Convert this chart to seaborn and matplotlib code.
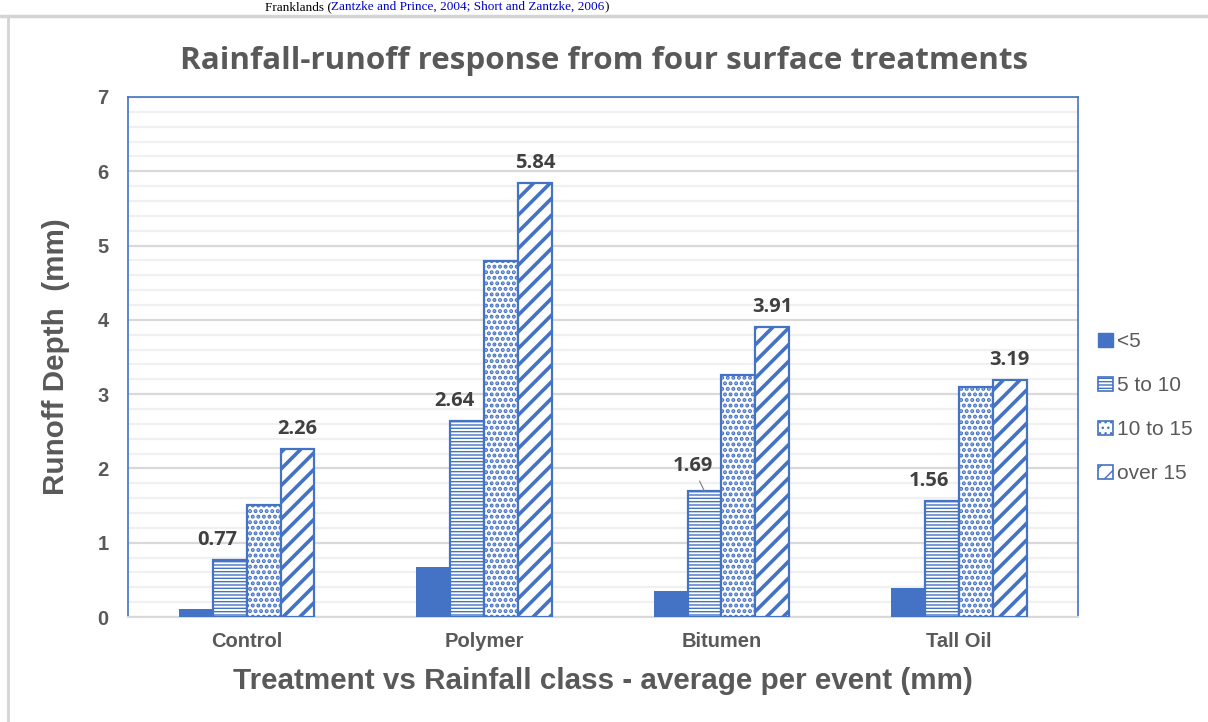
import pandas as pd
import matplotlib
matplotlib.use("Agg")
import matplotlib.pyplot as plt
from matplotlib.lines import Line2D
from matplotlib.patches import Patch
import seaborn as sns

sns.set_theme(style="white")

## Data ##
treatments = ["Control", "Polymer", "Bitumen", "Tall Oil"]
classes = ["<5", "5 to 10", "10 to 15", "over 15"]
lt5 = [0.11, 0.67, 0.35, 0.39]
r5_10 = [0.77, 2.64, 1.69, 1.56]
r10_15 = [1.51, 4.79, 3.26, 3.10]
over15 = [2.26, 5.84, 3.91, 3.19]
yticks = [0, 1, 2, 3, 4, 5, 6, 7]

df = pd.DataFrame({
    "Treatment": treatments * 4,
    "Class": [c for c in classes for _ in treatments],
    "Runoff": lt5 + r5_10 + r10_15 + over15,
})

blue = "#4472C4"
grey = "#595959"

fig = plt.figure(figsize=(12.08, 7.22), dpi=100)
ax = fig.add_axes([0.106, 0.1454, 0.786, 0.7203])

sns.barplot(data=df, x="Treatment", y="Runoff", hue="Class", order=treatments,
            hue_order=classes, width=0.57, gap=0, palette=[blue] * 4,
            errorbar=None, legend=False, ax=ax, zorder=3)

hatches = [None, "-----", "...", "//"]
hatch_lw = [1, 1.0, 2.0, 2.6]
for cont, h, hl in zip(ax.containers, hatches, hatch_lw):
    for b in cont:
        if h is None:
            b.set_facecolor(blue)
            b.set_edgecolor(blue)
            b.set_linewidth(0)
        else:
            b.set_facecolor("white")
            b.set_edgecolor(blue)
            b.set_hatch(h)
            b.set_linewidth(1.6)
            if hasattr(b, "set_hatch_linewidth"):
                b.set_hatch_linewidth(hl)

# data labels on "5 to 10" and "over 15"
lab_font = dict(fontsize=14.5, fontweight="bold", color="#404040", family="Open Sans")
for i, b in enumerate(ax.containers[1]):
    x = b.get_x() + b.get_width() / 2
    if treatments[i] == "Bitumen":
        ax.annotate("%.2f" % r5_10[i], xy=(x, r5_10[i]), xytext=(-12, 15),
                    textcoords="offset pixels", ha="center", va="bottom",
                    arrowprops=dict(arrowstyle="-", color="#7f7f7f", lw=0.8,
                                    shrinkA=1, shrinkB=0), **lab_font)
    else:
        ax.annotate("%.2f" % r5_10[i], xy=(x, r5_10[i]), xytext=(-13, 10),
                    textcoords="offset pixels", ha="center", va="bottom", **lab_font)
for i, b in enumerate(ax.containers[3]):
    x = b.get_x() + b.get_width() / 2
    ax.annotate("%.2f" % over15[i], xy=(x, over15[i]), xytext=(0, 10),
                textcoords="offset pixels", ha="center", va="bottom", **lab_font)

ax.set_ylim(0, 7)
ax.set_xlim(-0.5, 3.5)
ax.set_yticks(yticks)
ax.set_yticks([v / 5 for v in range(36)], minor=True)
ax.grid(axis="y", which="major", color="#D9D9D9", lw=1.6, zorder=0)
ax.grid(axis="y", which="minor", color="#F0F0F0", lw=1.6, zorder=0)
ax.set_axisbelow(True)
ax.tick_params(axis="both", which="both", length=0)
ax.tick_params(axis="y", pad=14)
ax.tick_params(axis="x", pad=11)
for t in ax.get_yticklabels() + ax.get_xticklabels():
    t.set_fontsize(14.5)
    t.set_fontweight("bold")
    t.set_color(grey)
    t.set_family("Liberation Sans")

for s in ["left", "top", "right"]:
    ax.spines[s].set_color(blue)
    ax.spines[s].set_linewidth(1.2)
ax.spines["bottom"].set_color("#D9D9D9")
ax.spines["bottom"].set_linewidth(1.5)

ax.set_xlabel("Treatment vs Rainfall class - average per event (mm)", fontsize=21.3,
              fontweight="bold", color=grey, family="Liberation Sans", labelpad=11)
ax.set_ylabel("Runoff Depth  (mm)", fontsize=21.3, fontweight="bold", color=grey,
              family="Liberation Sans", labelpad=20)

fig.text(0.5, 0.915, "Rainfall-runoff response from four surface treatments",
         ha="center", va="center", fontsize=22.6, fontweight="bold", color=grey,
         family="Open Sans")

# legend
handles = [Patch(facecolor=blue, edgecolor=blue)]
for h in hatches[1:]:
    handles.append(Patch(facecolor="white", edgecolor=blue, hatch=h, lw=1.2))
leg = fig.legend(handles, classes, loc="center left", bbox_to_anchor=(0.8935, 0.435),
                 frameon=False, handlelength=0.7, handleheight=0.7, handletextpad=0.2,
                 labelspacing=1.2, prop=dict(family="Liberation Sans", size=15))
for t in leg.get_texts():
    t.set_color(grey)

# page frame and the caption line above the chart
fig.add_artist(Line2D([0, 1], [0.978, 0.978], color="#D4D4D4", lw=2.5))
fig.add_artist(Line2D([0.0066, 0.0066], [0, 0.978], color="#D4D4D4", lw=2))
t1 = fig.text(0.219, 0.9985, "Franklands (", ha="left", va="top", fontsize=9.5,
              family="Liberation Serif", color="black")
t2 = ax.annotate("Zantzke and Prince, 2004; Short and Zantzke, 2006", xy=(1, 0),
                 xycoords=t1, ha="left", va="bottom", fontsize=9.5,
                 family="Liberation Serif", color="#0000CC", annotation_clip=False)
ax.annotate(")", xy=(1, 0), xycoords=t2, ha="left", va="bottom", fontsize=9.5,
            family="Liberation Serif", color="black", annotation_clip=False)

plt.savefig("out.png", dpi=100)
